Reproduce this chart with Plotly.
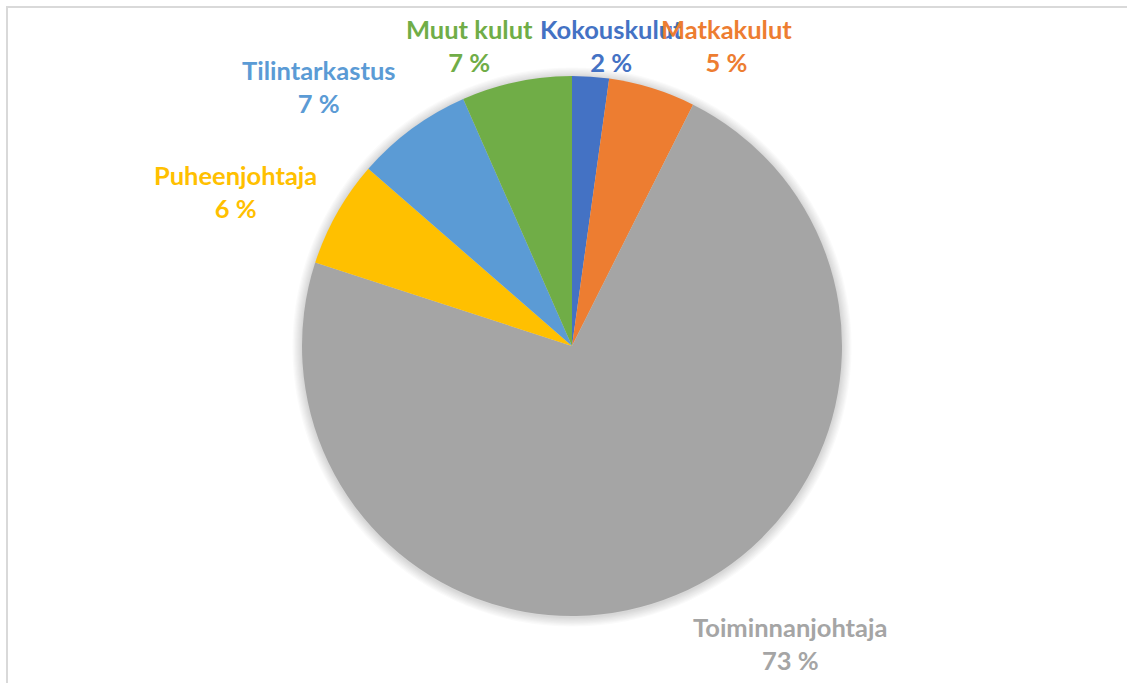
import plotly.graph_objects as go

labels = ["Kokouskulut", "Matkakulut", "Toiminnanjohtaja", "Puheenjohtaja", "Tilintarkastus", "Muut kulut"]
values = [2.2, 5.2, 72.6, 6.4, 7.0, 6.6]
colors = ["#4472C4", "#ED7D31", "#A5A5A5", "#FFC000", "#5B9BD5", "#70AD47"]

total = sum(values)
pct = [round(v / total * 100) for v in values]

W, H = 1127, 683
cx, cy, r = 572, 346, 270

# label block centres (pixels) for each data label
label_pos = {
    "Kokouskulut": (611, 45),
    "Matkakulut": (727, 45),
    "Toiminnanjohtaja": (790, 643),
    "Puheenjohtaja": (235, 191),
    "Tilintarkastus": (318, 87),
    "Muut kulut": (469, 45),
}


def dom(rad, dy=0):
    return dict(x=[(cx - rad) / W, (cx + rad) / W],
                y=[1 - (cy + dy + rad) / H, 1 - (cy + dy - rad) / H])


fig = go.Figure()

# soft shadow behind the pie
for k in range(8, 0, -1):
    fig.add_trace(go.Pie(
        values=[1], labels=["shadow"], sort=False, textinfo="none", hoverinfo="skip",
        marker=dict(colors=["rgba(0,0,0,0.018)"], line=dict(width=0)),
        showlegend=False, domain=dom(r + 1.2 * k, dy=1),
    ))

fig.add_trace(go.Pie(
    labels=labels, values=values, sort=False, direction="clockwise", rotation=0,
    marker=dict(colors=colors, line=dict(color="white", width=0)),
    textinfo="none",
    showlegend=False, hoverinfo="label+percent",
    domain=dom(r),
))

annotations = []
for lab, p, col in zip(labels, pct, colors):
    px, py = label_pos[lab]
    annotations.append(dict(
        x=px / W, y=1 - py / H, xref="paper", yref="paper",
        text=f"<b>{lab}</b><br><b>{p} %</b>", showarrow=False,
        xanchor="center", yanchor="middle", align="center",
        font=dict(family="Lato", size=25.5, color=col),
    ))

fig.update_layout(
    width=W, height=H, margin=dict(l=0, r=0, t=0, b=0),
    paper_bgcolor="white", plot_bgcolor="white",
    annotations=annotations,
    shapes=[dict(type="rect", xref="paper", yref="paper",
                 x0=7 / W, x1=1.02, y0=-0.02, y1=1 - 7 / H,
                 line=dict(color="#D9D9D9", width=2))],
)
fig.write_html("out.html", config={"displayModeBar": False},
               post_script="document.body.style.margin='0';document.body.style.overflow='hidden';")
